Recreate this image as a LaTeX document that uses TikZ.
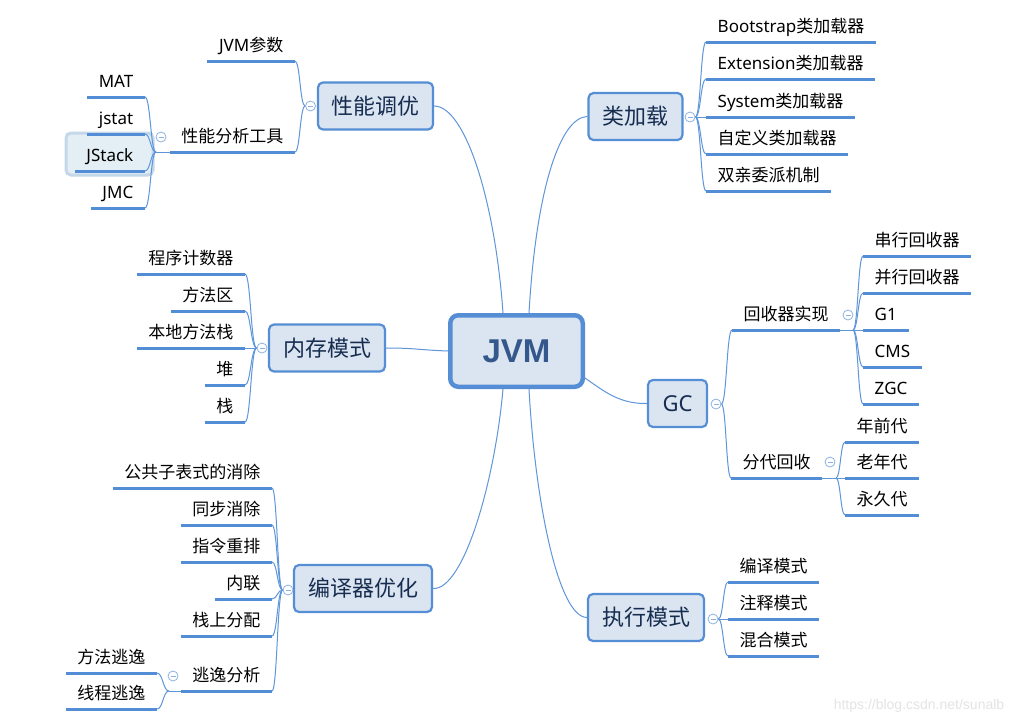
\documentclass[tikz,border=0pt]{standalone}
\usepackage{fontspec}
\setmainfont{Noto Sans CJK SC}
\newfontfamily\lat{Noto Sans}
\newfontfamily\boldlat{Liberation Sans}
\newfontfamily\wm{Liberation Sans}
\usetikzlibrary{calc,backgrounds}
\definecolor{lineblue}{RGB}{83,141,213}
\definecolor{connblue}{RGB}{95,150,218}
\definecolor{boxfill}{RGB}{219,229,241}
\definecolor{boxdraw}{RGB}{85,142,213}
\definecolor{boxtext}{RGB}{23,45,80}
\definecolor{jvmtext}{RGB}{52,88,140}
\definecolor{circdraw}{RGB}{141,179,226}
\definecolor{hlfill}{RGB}{227,239,245}
\definecolor{hldraw}{RGB}{196,216,234}
\definecolor{wmgray}{RGB}{228,228,228}
\tikzset{
  topic/.style={draw=boxdraw, fill=boxfill, line width=2.2pt, rounded corners=5pt, text=boxtext,
    font=\fontsize{22}{22}\selectfont, inner sep=0pt, text height=17pt, text depth=0.5pt, minimum height=47pt},
  root/.style={draw=boxdraw, fill=boxfill, line width=4.5pt, rounded corners=8pt, text=jvmtext,
    font=\boldlat\bfseries\fontsize{33}{33}\selectfont, inner sep=0pt, minimum width=132.5pt, minimum height=71.5pt,
    text height=23.5pt, text depth=0pt},
  leaf/.style={inner xsep=11.5pt, inner ysep=0pt, text height=14pt, text depth=9pt,
    font=\fontsize{17}{17}\selectfont, text=black},
  uline/.style={draw=lineblue, line width=3pt},
  conn/.style={draw=connblue, line width=1pt},
  hlbox/.style={fill=hlfill, draw=hldraw, line width=3pt, rounded corners=5pt},
  fold/.style={circle, draw=circdraw, fill=white, line width=0.8pt, minimum size=10pt, inner sep=0pt,
    path picture={\draw[circdraw, line width=0.8pt] ([xshift=2.5pt]path picture bounding box.west) -- ([xshift=-2.5pt]path picture bounding box.east);}},
}
\newcommand{\mmcurve}[2]{\draw[conn] let \p1=(#1), \p2=(#2) in (\p1) .. controls ({(\x1+\x2)/2},\y1) and ({(\x1+\x2)/2},\y2) .. (\p2);}
\newcommand{\leafR}[4]{\node[leaf,anchor=south west] (#1) at (#2,#3) {#4}; \draw[uline] (#1.south west) -- (#1.south east);}
\newcommand{\leafL}[4]{\node[leaf,anchor=south east] (#1) at (#2,#3) {#4}; \draw[uline] (#1.south west) -- (#1.south east);}
\begin{document}
\begin{tikzpicture}[x=1pt,y=-1pt]
\useasboundingbox (0,0) rectangle (1025,724);
% root and main topics
\node[root] (JVM) at (516.5,351) {JVM};
\node[topic, minimum width=115pt] (PT) at (375.5,106) {性能调优};
\node[topic, minimum width=94pt] (CL) at (635.5,116.5) {类加载};
\node[topic, minimum width=116pt] (NC) at (327,348) {内存模式};
\node[topic, minimum width=59pt] (GC) at (677.5,403.5) {\lat GC};
\node[topic, minimum width=138pt] (BY) at (363,588.5) {编译器优化};
\node[topic, minimum width=116pt] (ZX) at (646,617.5) {执行模式};
% fold markers
\node[fold] (fPT) at (310.5,106) {};
\node[fold] (fCL) at (690,117) {};
\node[fold] (fNC) at (262,348) {};
\node[fold] (fGC) at (716,404) {};
\node[fold] (fBY) at (288,590) {};
\node[fold] (fZX) at (713,619) {};
% 性能调优
\leafL{JP}{295}{61}{{\lat JVM}参数}
\leafL{PA}{295}{152}{性能分析工具}
\node[fold] (fPA) at (161,137) {};
\coordinate (jPA) at (156,152);
\leafL{MAT}{145}{97}{\lat MAT}
\leafL{JSTAT}{145}{134}{\lat jstat}
\leafL{JSTACK}{145}{171}{\lat JStack}
\leafL{JMC}{145}{208}{\lat JMC}
% 类加载
\leafR{BS}{706}{42}{{\lat Bootstrap}类加载器}
\leafR{EX}{706}{79}{{\lat Extension}类加载器}
\leafR{SY}{706}{117}{{\lat System}类加载器}
\leafR{ZD}{706}{154}{自定义类加载器}
\leafR{SQ}{706}{191}{双亲委派机制}
% 内存模式
\leafL{CX}{245}{274}{程序计数器}
\leafL{FF}{245}{311}{方法区}
\leafL{BD}{245}{348}{本地方法栈}
\leafL{DU}{245}{385}{堆}
\leafL{ZH}{245}{422}{栈}
% GC
\leafR{HS}{732}{330}{回收器实现}
\leafR{FD}{731}{478}{分代回收}
\node[fold] (fHS) at (848,315) {};
\coordinate (jHS) at (853,330);
\leafR{CH}{863}{256}{串行回收器}
\leafR{BX}{863}{293}{并行回收器}
\leafR{GA}{863}{330}{\lat G1}
\leafR{CMS}{863}{367}{\lat CMS}
\leafR{ZGC}{863}{404}{\lat ZGC}
\node[fold] (fFD) at (830,462) {};
\coordinate (jFD) at (836,478);
\leafR{NQ}{845}{442}{年前代}
\leafR{LN}{845}{478}{老年代}
\leafR{YJ}{845}{515}{永久代}
% 编译器优化
\leafL{GG}{272}{488}{公共子表式的消除}
\leafL{TB}{272}{525}{同步消除}
\leafL{ZL}{272}{562}{指令重排}
\leafL{NL}{272}{599}{内联}
\leafL{ZS}{272}{636}{栈上分配}
\leafL{TY}{272}{691}{逃逸分析}
\node[fold] (fTY) at (173,676) {};
\coordinate (jTY) at (169,691);
\leafL{FT}{157}{673}{方法逃逸}
\leafL{XT}{157}{709}{线程逃逸}
% 执行模式
\leafR{BM}{728}{582}{编译模式}
\leafR{ZM}{728}{619}{注释模式}
\leafR{HM}{728}{656}{混合模式}
% watermark
\node[font=\wm\fontsize{14}{14}\selectfont, text=wmgray] (wm) at (919,706) {https://blog.csdn.net/sunalb};
\begin{scope}[on background layer]
\fill[white] (0,0) rectangle (1025,724);
\draw[hlbox] (66,133) rectangle (153,175);
% main connectors
\draw[conn] (PT.east) .. controls (465,106) and (495,200) .. ([xshift=-13.5pt]JVM.north);
\draw[conn] (CL.west) .. controls (560,117) and (536,190) .. ([xshift=12.5pt]JVM.north);
\draw[conn] (NC.east) .. controls (415,348) and (420,350) .. (JVM.west);
\draw[conn] (GC.west) .. controls (620,404) and (605,392) .. ([yshift=-27pt]JVM.east);
\draw[conn] (BY.east) .. controls (464,590) and (495,480) .. ([xshift=-13.5pt]JVM.south);
\draw[conn] (ZX.west) .. controls (558,617) and (535,500) .. ([xshift=12.5pt]JVM.south);
% 性能调优 branches
\mmcurve{fPT.west}{JP.south east}
\mmcurve{fPT.west}{PA.south east}
\draw[conn] (PA.south west) -- (jPA);
\mmcurve{jPA}{MAT.south east}
\mmcurve{jPA}{JSTAT.south east}
\mmcurve{jPA}{JSTACK.south east}
\mmcurve{jPA}{JMC.south east}
% 类加载 branches
\mmcurve{fCL.east}{BS.south west}
\mmcurve{fCL.east}{EX.south west}
\mmcurve{fCL.east}{SY.south west}
\mmcurve{fCL.east}{ZD.south west}
\mmcurve{fCL.east}{SQ.south west}
% 内存模式 branches
\mmcurve{fNC.west}{CX.south east}
\mmcurve{fNC.west}{FF.south east}
\mmcurve{fNC.west}{BD.south east}
\mmcurve{fNC.west}{DU.south east}
\mmcurve{fNC.west}{ZH.south east}
% GC branches
\mmcurve{fGC.east}{HS.south west}
\mmcurve{fGC.east}{FD.south west}
\draw[conn] (HS.south east) -- (jHS);
\mmcurve{jHS}{CH.south west}
\mmcurve{jHS}{BX.south west}
\mmcurve{jHS}{GA.south west}
\mmcurve{jHS}{CMS.south west}
\mmcurve{jHS}{ZGC.south west}
\draw[conn] (FD.south east) -- (jFD);
\mmcurve{jFD}{NQ.south west}
\mmcurve{jFD}{LN.south west}
\mmcurve{jFD}{YJ.south west}
% 编译器优化 branches
\mmcurve{fBY.west}{GG.south east}
\mmcurve{fBY.west}{TB.south east}
\mmcurve{fBY.west}{ZL.south east}
\mmcurve{fBY.west}{NL.south east}
\mmcurve{fBY.west}{ZS.south east}
\mmcurve{fBY.west}{TY.south east}
\draw[conn] (TY.south west) -- (jTY);
\mmcurve{jTY}{FT.south east}
\mmcurve{jTY}{XT.south east}
% 执行模式 branches
\mmcurve{fZX.east}{BM.south west}
\mmcurve{fZX.east}{ZM.south west}
\mmcurve{fZX.east}{HM.south west}
\end{scope}
\end{tikzpicture}
\end{document}
